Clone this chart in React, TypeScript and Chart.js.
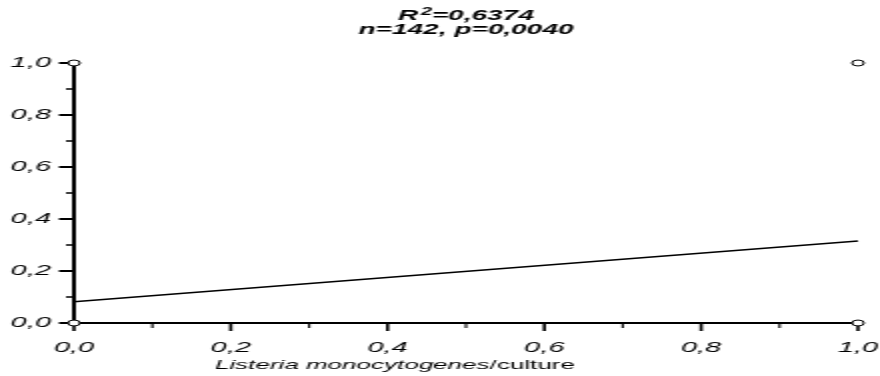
import React, { useEffect, useRef } from 'react';
import { Chart, registerables } from 'chart.js';

Chart.register(...registerables);

// ---- data ----
const titleR = 'R';
const titleSup = '2';
const titleRest = '=0,6374';
const titleLine2 = 'n=142, p=0,0040';
const xTitleItalic = 'Listeria monocytogenes';
const xTitlePlain = '/culture';
const pointXs = [0, 0, 1, 1];
const pointYs = [0, 1, 0, 1];
const fitXs = [0, 1];
const fitYs = [0.082, 0.315];
const majorTicks = [0, 0.2, 0.4, 0.6, 0.8, 1.0];
const minorTicks = [0.1, 0.3, 0.5, 0.7, 0.9];

const FONT = "'Liberation Sans', Arial, sans-serif";
const fmt = (v: number) => Number(v).toFixed(1).replace('.', ',');

const tickPlugin = {
  id: 'customTicks',
  beforeDatasetsDraw(chart: any) {
    const ctx = chart.ctx;
    const { left, bottom } = chart.chartArea;
    const xs = chart.scales.x;
    const ys = chart.scales.y;
    ctx.save();
    ctx.strokeStyle = '#000';
    ctx.lineCap = 'butt';
    for (const v of majorTicks) {
      const py = ys.getPixelForValue(v);
      ctx.lineWidth = 2;
      ctx.beginPath();
      ctx.moveTo(left - 7.5, py);
      ctx.lineTo(left, py);
      ctx.stroke();
      const px = xs.getPixelForValue(v);
      ctx.lineWidth = 1.6;
      ctx.beginPath();
      ctx.moveTo(px, bottom);
      ctx.lineTo(px, bottom + 8);
      ctx.stroke();
    }
    for (const v of minorTicks) {
      const py = ys.getPixelForValue(v);
      ctx.lineWidth = 1.5;
      ctx.beginPath();
      ctx.moveTo(left - 4, py);
      ctx.lineTo(left, py);
      ctx.stroke();
      const px = xs.getPixelForValue(v);
      ctx.lineWidth = 1.1;
      ctx.beginPath();
      ctx.moveTo(px, bottom);
      ctx.lineTo(px, bottom + 5);
      ctx.stroke();
    }
    ctx.restore();
  },
};

const textPlugin = {
  id: 'mixedTexts',
  afterDraw(chart: any) {
    const ctx = chart.ctx;
    const { left, right } = chart.chartArea;
    const cx = (left + right) / 2;
    ctx.save();
    ctx.fillStyle = '#000';
    ctx.textBaseline = 'alphabetic';
    ctx.textAlign = 'left';

    // title line 1 with superscript
    const big = `italic bold 14px ${FONT}`;
    const small = `italic bold 10px ${FONT}`;
    ctx.font = big;
    const wR = ctx.measureText(titleR).width;
    const wRest = ctx.measureText(titleRest).width;
    ctx.font = small;
    const wSup = ctx.measureText(titleSup).width;
    const gap = 1.2;
    const total1 = wR + gap + wSup + wRest;
    let x = cx - total1 / 2;
    const base1 = 19.5;
    ctx.font = big;
    ctx.fillText(titleR, x, base1);
    x += wR + gap;
    ctx.font = small;
    ctx.fillText(titleSup, x, base1 - 4.5);
    x += wSup;
    ctx.font = big;
    ctx.fillText(titleRest, x, base1);

    // title line 2
    ctx.textAlign = 'center';
    ctx.fillText(titleLine2, cx, base1 + 14.5);

    // x-axis title, italic species name + plain suffix
    ctx.textAlign = 'left';
    const startX = left + 70.5;
    const baseY = 369;
    ctx.font = `italic 13px ${FONT}`;
    const w1 = ctx.measureText(xTitleItalic).width;
    ctx.fillText(xTitleItalic, startX, baseY);
    ctx.font = `13px ${FONT}`;
    ctx.fillText(xTitlePlain, startX + w1, baseY);
    ctx.restore();
  },
};

export default function App() {
  const ref = useRef<HTMLCanvasElement | null>(null);

  useEffect(() => {
    if (!ref.current) return;
    const chart = new Chart(ref.current, {
      type: 'scatter',
      data: {
        datasets: [
          {
            type: 'scatter',
            label: 'points',
            data: pointXs.map((x, i) => ({ x, y: pointYs[i] })),
            pointRadius: 3,
            pointBackgroundColor: '#fff',
            pointBorderColor: '#000',
            pointBorderWidth: 1,
            clip: false,
          } as any,
          {
            type: 'line',
            label: 'fit',
            data: fitXs.map((x, i) => ({ x, y: fitYs[i] })),
            borderColor: '#000',
            borderWidth: 1.5,
            pointRadius: 0,
            fill: false,
            tension: 0,
            clip: false,
          } as any,
        ],
      },
      options: {
        responsive: false,
        animation: false,
        layout: { padding: { left: 0, right: 11, top: 63, bottom: 0 } },
        plugins: {
          legend: { display: false },
          tooltip: { enabled: false },
          title: { display: false },
        },
        scales: {
          x: {
            type: 'linear',
            min: 0,
            max: 1,
            grid: { display: false, drawTicks: false, tickLength: 0 },
            border: { display: true, color: '#000', width: 2 },
            ticks: {
              stepSize: 0.2,
              color: '#000',
              font: { family: FONT, size: 14.5, style: 'italic' },
              padding: 15.8,
              maxRotation: 0,
              autoSkip: false,
              callback: (v: any) => fmt(v),
            },
            afterFit: (s: any) => {
              s.height = 53;
              s.paddingLeft = 0;
              s.paddingRight = 0;
            },
          },
          y: {
            type: 'linear',
            min: 0,
            max: 1,
            grid: { display: false, drawTicks: false, tickLength: 0 },
            border: { display: true, color: '#000', width: 2 },
            ticks: {
              stepSize: 0.2,
              color: '#000',
              font: { family: FONT, size: 14.5, style: 'italic' },
              padding: 11.5,
              autoSkip: false,
              callback: (v: any) => fmt(v),
            },
            afterFit: (s: any) => {
              s.width = 37;
              s.paddingTop = 0;
              s.paddingBottom = 0;
            },
          },
        },
      } as any,
      plugins: [tickPlugin, textPlugin],
    });
    return () => chart.destroy();
  }, []);

  return (
    <div
      style={{
        position: 'fixed',
        left: 0,
        top: 0,
        width: 440,
        height: 376,
        transform: 'scaleX(2)',
        transformOrigin: '0 0',
        background: '#fff',
      }}
    >
      <canvas ref={ref} width={440} height={376} style={{ display: 'block' }} />
    </div>
  );
}
